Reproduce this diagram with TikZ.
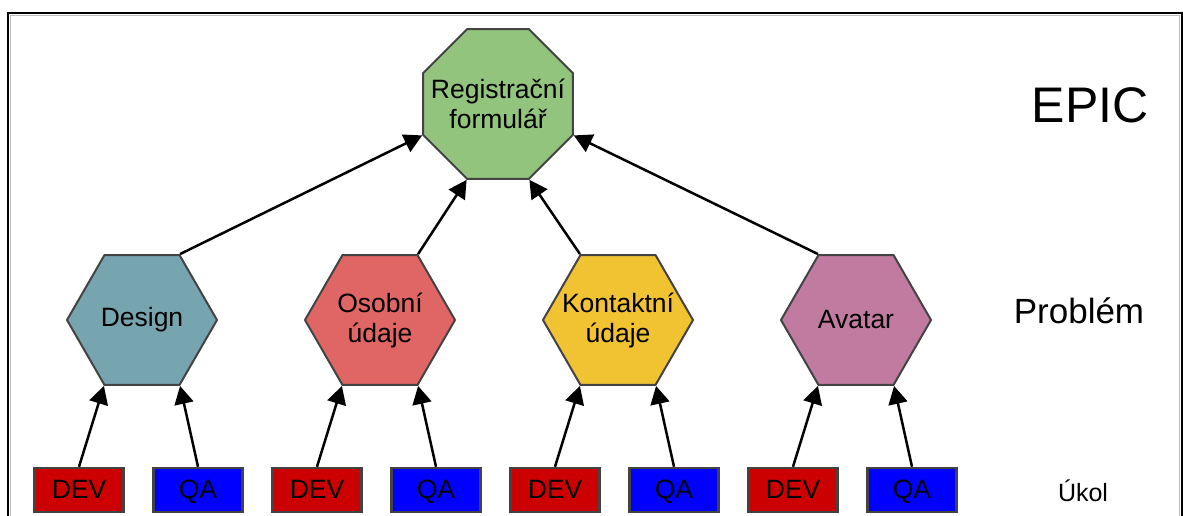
\documentclass[tikz,border=0pt]{standalone}
\usepackage{fontspec}
\setmainfont{Liberation Sans}
\usetikzlibrary{shapes.geometric,arrows.meta}
\definecolor{edgegray}{HTML}{434343}
\definecolor{epicgreen}{HTML}{93C47D}
\definecolor{designteal}{HTML}{76A5AF}
\definecolor{osobred}{HTML}{E06666}
\definecolor{kontyellow}{HTML}{F1C232}
\definecolor{avatarpink}{HTML}{C27BA0}
\definecolor{devred}{HTML}{CC0000}
\definecolor{qablue}{HTML}{0000FF}

\begin{document}
\begin{tikzpicture}[x=1pt, y=-1pt,
  txt/.style={font=\fontsize{26.5}{30}\selectfont, align=center},
  hexa/.style={regular polygon, regular polygon sides=6, draw=edgegray, line width=2pt, minimum size=150pt, inner sep=-30pt, txt},
  task/.style={rectangle, draw=edgegray, line width=2.5pt, minimum height=44pt, minimum width=89pt, inner sep=0pt, text height=19pt, text depth=3pt, txt},
  arr/.style={-{Triangle[length=18pt,width=19pt]}, line width=2.5pt}]
  \useasboundingbox (0,0) rectangle (1183,516);
  % Frame
  \draw[gray!50, line width=1.5pt] (10.5,516) -- (10.5,15.5) -- (1179.5,15.5) -- (1179.5,516);
  \draw[line width=2pt] (8,516) -- (8,13) -- (1182,13) -- (1182,516);
  % Nodes
  \node (epic) [regular polygon, regular polygon sides=8, draw=edgegray, line width=2pt, minimum size=162pt, inner sep=-30pt, fill=epicgreen, txt] at (498,104) {Registrační\\formulář};
  \node (design) [hexa, fill=designteal] at (142,320) {Design};
  \node (osobni) [hexa, fill=osobred] at (380,320) {Osobní\\údaje};
  \node (kontakt) [hexa, fill=kontyellow] at (618,320) {Kontaktní\\údaje};
  \node (avatar) [hexa, fill=avatarpink] at (856,320) {Avatar};
  \node (dev1) [task, fill=devred] at (79,490) {DEV};
  \node (qa1) [task, fill=qablue] at (198,490) {QA};
  \node (dev2) [task, fill=devred] at (317,490) {DEV};
  \node (qa2) [task, fill=qablue] at (436,490) {QA};
  \node (dev3) [task, fill=devred] at (555,490) {DEV};
  \node (qa3) [task, fill=qablue] at (674,490) {QA};
  \node (dev4) [task, fill=devred] at (793,490) {DEV};
  \node (qa4) [task, fill=qablue] at (912,490) {QA};
  % Levels
  \node (lepic) [font=\fontsize{50}{60}\selectfont] at (1090,105) {EPIC};
  \node (lprob) [font=\fontsize{35}{42}\selectfont] at (1079,311) {Problém};
  \node (lukol) [font=\fontsize{25}{30}\selectfont] at (1083,491) {Úkol};
  % Arrows
  \draw[arr] (design.corner 1) -- (epic.corner 4);
  \draw[arr] (osobni.corner 1) -- (epic.corner 5);
  \draw[arr] (kontakt.corner 2) -- (epic.corner 6);
  \draw[arr] (avatar.corner 2) -- (epic.corner 7);
  \draw[arr] (dev1.north) -- (design.corner 4);
  \draw[arr] (qa1.north) -- (design.corner 5);
  \draw[arr] (dev2.north) -- (osobni.corner 4);
  \draw[arr] (qa2.north) -- (osobni.corner 5);
  \draw[arr] (dev3.north) -- (kontakt.corner 4);
  \draw[arr] (qa3.north) -- (kontakt.corner 5);
  \draw[arr] (dev4.north) -- (avatar.corner 4);
  \draw[arr] (qa4.north) -- (avatar.corner 5);
\end{tikzpicture}
\end{document}
